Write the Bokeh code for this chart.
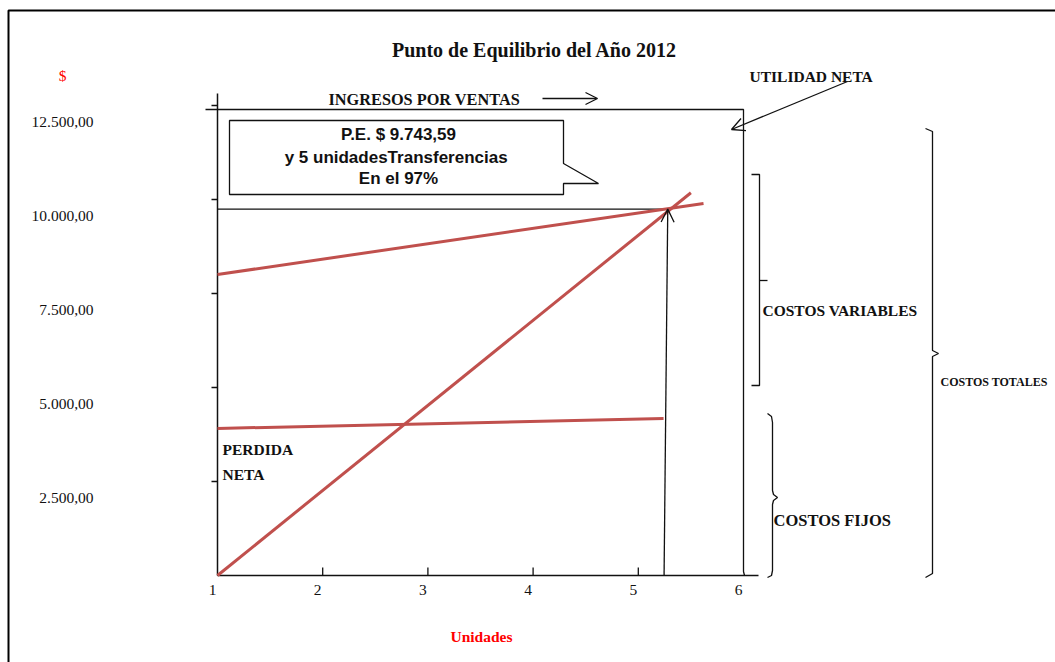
from bokeh.plotting import figure
from bokeh.models import Range1d, Arrow, OpenHead
from bokeh.core.properties import value
from bokeh.embed import file_html
from bokeh.resources import INLINE

# ---- datos ----
titulo = "Punto de Equilibrio del Año 2012"
unidades_ticks = [1, 2, 3, 4, 5, 6]
unidades_labels = ["1", "2", "3", "4", "5", "6"]
valores_ticks = [2500, 5000, 7500, 10000, 12500]
valores_labels = ["2.500,00", "5.000,00", "7.500,00", "10.000,00", "12.500,00"]

ingresos_x = [1, 5.5]
ingresos_y = [0, 10180]
costos_totales_x = [1, 5.62]
costos_totales_y = [8005, 9894]
costos_fijos_x = [1, 5.24]
costos_fijos_y = [3910, 4176]

pe_valor = 9743.59
pe_unidades = 5.28
callout = ["P.E. $ 9.743,59", "y  5 unidadesTransferencias", "En el 97%"]

# ---- escala: origen (1, 0) en pixel (217, 575) ----
W, H = 1055, 662
OX, OY = 217, 575
PX_UNIT = 105.2
PX_VAL = 0.0376


def dx(px):
    return 1 + (px - OX) / PX_UNIT


def dy(py):
    return (OY - py) / PX_VAL


p = figure(width=W, height=H, x_range=Range1d(dx(0), dx(W)), y_range=Range1d(dy(H), dy(0)),
           output_backend="svg", toolbar_location=None, min_border=0,
           x_axis_location=None, y_axis_location=None)
p.grid.visible = False
p.outline_line_color = None
p.background_fill_color = "white"
p.border_fill_color = "white"

SERIF = value("Liberation Serif")
SANS = value("Liberation Sans")
RED_LINE = "#C0504D"
INK = "#111111"


def seg(pxs, pys, width=1.3, color=INK):
    p.line([dx(a) for a in pxs], [dy(b) for b in pys], line_color=color, line_width=width)


def txt(px, py, s, size="15.5px", font=SERIF, style="bold", color=INK, align="left"):
    p.text(x=[dx(px)], y=[dy(py)], text=[s], text_font=font, text_font_size=size,
           text_font_style=style, text_color=color, text_align=align, text_baseline="middle")


# marco exterior
seg([8, 8, W], [H, 10, 10], width=2, color="#000000")

# ejes dibujados a mano
seg([OX, OX], [93, OY], width=1.5)
seg([OX, 758], [OY, OY], width=1.5)
for v in valores_ticks:
    p.line([dx(211), 1], [v, v], line_color=INK, line_width=1.5)
for u in unidades_ticks[1:-1]:
    p.line([u, u], [0, 8 / PX_VAL], line_color=INK, line_width=1.3)

p.text(x=[dx(93)] * len(valores_ticks), y=[v - 16 / PX_VAL for v in valores_ticks], text=valores_labels,
       text_font=SERIF, text_font_size="15.5px", text_color=INK, text_align="right",
       text_baseline="middle")
p.text(x=[u - 5 / PX_UNIT for u in unidades_ticks], y=[dy(589)] * len(unidades_ticks), text=unidades_labels,
       text_font=SERIF, text_font_size="15.5px", text_color=INK, text_align="center",
       text_baseline="middle")

# marco de ingresos por ventas
seg([205, 743, 743, 744], [109, 109, 571, OY])

# linea horizontal del punto de equilibrio
p.line([1, pe_unidades], [pe_valor, pe_valor], line_color=INK, line_width=1.3)

# curvas del punto de equilibrio
p.line(costos_fijos_x, costos_fijos_y, line_color=RED_LINE, line_width=3)
p.line(costos_totales_x, costos_totales_y, line_color=RED_LINE, line_width=3)
p.line(ingresos_x, ingresos_y, line_color=RED_LINE, line_width=3)

# flecha vertical hacia el punto de equilibrio
p.add_layout(Arrow(x_start=pe_unidades - 0.035, y_start=0, x_end=pe_unidades, y_end=pe_valor,
                   line_color=INK, line_width=1.3,
                   end=OpenHead(size=13, line_color=INK, line_width=1.3)))

# recuadro con el resultado
bx = [229, 563, 563, 598, 563, 563, 229]
by = [120, 120, 163, 183, 183, 194, 194]
p.patch([dx(a) for a in bx], [dy(b) for b in by], fill_color="white", line_color=INK, line_width=1.3)
for s, yy in zip(callout, [134, 157, 178]):
    txt(398, yy, s, size="17px", font=SANS, align="center")

# rotulos
txt(534, 49, titulo, size="20px", align="center")
txt(62, 75, "$", style="normal", color="#FF0000", align="center")
txt(481, 636, "Unidades", color="#FF0000", align="center")
txt(328, 99, "INGRESOS POR VENTAS", size="16.3px")
txt(749, 76, "UTILIDAD NETA")
txt(762, 310, "COSTOS VARIABLES")
txt(773, 520, "COSTOS FIJOS", size="16.5px")
txt(940, 381, "COSTOS TOTALES", size="12px")
txt(222, 449, "PERDIDA")
txt(222, 474, "NETA")

# flechas de rotulos
p.add_layout(Arrow(x_start=dx(542), y_start=dy(98), x_end=dx(597), y_end=dy(98),
                   line_color=INK, line_width=1.3,
                   end=OpenHead(size=12, line_color=INK, line_width=1.3)))
p.add_layout(Arrow(x_start=dx(847), y_start=dy(81), x_end=dx(731), y_end=dy(129),
                   line_color=INK, line_width=1.3,
                   end=OpenHead(size=13, line_color=INK, line_width=1.3)))

# llaves de costos
seg([751, 759, 759, 751], [174, 174, 385, 385])
seg([759, 767], [280, 280])
seg([925, 932, 932, 938, 932, 932, 925], [128, 131, 350, 353, 356, 573, 577])
seg([767, 771, 772, 772, 773, 777, 773, 772, 772, 771, 767],
    [413, 416, 422, 490, 494, 497, 500, 504, 570, 575, 577])

open("out.html", "w").write(file_html(p, INLINE))
